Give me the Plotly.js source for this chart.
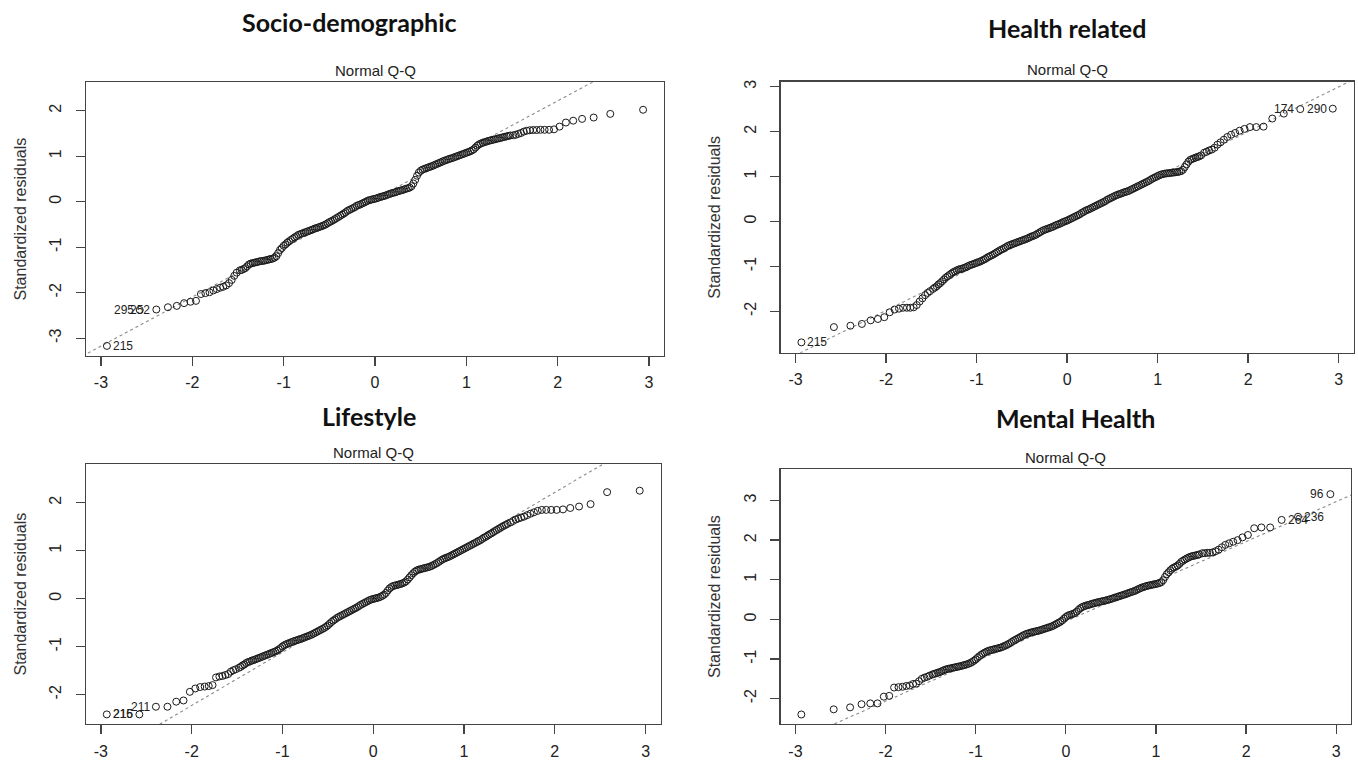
<!DOCTYPE html>
<html><head><meta charset="utf-8">
<script src="https://cdn.plot.ly/plotly-3.0.1.min.js"></script>
<style>html,body{margin:0;padding:0;background:#fff}#chart{width:1358px;height:761px}</style>
</head><body><div id="chart"></div><script>
// ---------- data ----------
const xTicks = [-3,-2,-1,0,1,2,3];

// theoretical quantiles (x positions of the points, shared by the four panels)
const qLow  = [-2.935,-2.576,-2.394,-2.267,-2.170,-2.090,-2.020,-1.960,-1.906,-1.857,-1.812,-1.770,-1.732,-1.695,-1.661,-1.629,-1.598,-1.569,-1.541,-1.514];
const qMid  = [-1.48,-1.46,-1.44,-1.42,-1.40,-1.38,-1.36,-1.34,-1.32,-1.30,
-1.28,-1.26,-1.24,-1.22,-1.20,-1.18,-1.16,-1.14,-1.12,-1.10,
-1.08,-1.06,-1.04,-1.02,-1.00,-0.98,-0.96,-0.94,-0.92,-0.90,
-0.88,-0.86,-0.84,-0.82,-0.80,-0.78,-0.76,-0.74,-0.72,-0.70,
-0.68,-0.66,-0.64,-0.62,-0.60,-0.58,-0.56,-0.54,-0.52,-0.50,
-0.48,-0.46,-0.44,-0.42,-0.40,-0.38,-0.36,-0.34,-0.32,-0.30,
-0.28,-0.26,-0.24,-0.22,-0.20,-0.18,-0.16,-0.14,-0.12,-0.10,
-0.08,-0.06,-0.04,-0.02,0.00,0.02,0.04,0.06,0.08,0.10,
0.12,0.14,0.16,0.18,0.20,0.22,0.24,0.26,0.28,0.30,
0.32,0.34,0.36,0.38,0.40,0.42,0.44,0.46,0.48,0.50,
0.52,0.54,0.56,0.58,0.60,0.62,0.64,0.66,0.68,0.70,
0.72,0.74,0.76,0.78,0.80,0.82,0.84,0.86,0.88,0.90,
0.92,0.94,0.96,0.98,1.00,1.02,1.04,1.06,1.08,1.10,
1.12,1.14,1.16,1.18,1.20,1.22,1.24,1.26,1.28,1.30,
1.32,1.34,1.36,1.38,1.40,1.42,1.44,1.46,1.48];
const qHigh = [1.514,1.541,1.569,1.598,1.629,1.661,1.695,1.732,1.770,1.812,1.857,1.906,1.960,2.020,2.090,2.170,2.267,2.394,2.576,2.935];

// Socio-demographic standardized residuals
const socioLow  = [-3.17,-2.38,-2.37,-2.32,-2.29,-2.23,-2.20,-2.18,-2.03,-2.01,-1.99,-1.95,-1.92,-1.89,-1.87,-1.84,-1.79,-1.72,-1.63,-1.56];
const socioMid  = [-1.51,-1.50,-1.48,-1.46,-1.42,-1.38,-1.36,-1.35,-1.34,-1.33,
-1.32,-1.31,-1.305,-1.30,-1.29,-1.28,-1.27,-1.26,-1.25,-1.23,
-1.20,-1.13,-1.06,-1.02,-0.97,-0.94,-0.90,-0.87,-0.84,-0.815,
-0.785,-0.76,-0.73,-0.715,-0.70,-0.685,-0.67,-0.655,-0.64,-0.625,
-0.61,-0.59,-0.58,-0.565,-0.55,-0.535,-0.52,-0.50,-0.475,-0.45,
-0.43,-0.41,-0.385,-0.36,-0.335,-0.31,-0.285,-0.26,-0.23,-0.20,
-0.18,-0.16,-0.14,-0.12,-0.09,-0.075,-0.06,-0.04,-0.02,0.00,
0.02,0.035,0.045,0.055,0.065,0.075,0.09,0.105,0.115,0.125,
0.14,0.155,0.17,0.185,0.195,0.205,0.22,0.235,0.245,0.255,
0.27,0.285,0.295,0.31,0.34,0.40,0.48,0.57,0.64,0.68,
0.705,0.72,0.735,0.75,0.765,0.78,0.795,0.815,0.83,0.85,
0.865,0.885,0.90,0.915,0.93,0.945,0.955,0.97,0.985,1.00,
1.015,1.03,1.045,1.06,1.075,1.09,1.105,1.125,1.15,1.19,
1.23,1.26,1.28,1.295,1.31,1.32,1.335,1.345,1.355,1.365,
1.375,1.385,1.395,1.405,1.415,1.425,1.435,1.445,1.455];
const socioHigh = [1.46,1.47,1.49,1.51,1.54,1.56,1.57,1.575,1.575,1.58,1.58,1.58,1.59,1.65,1.74,1.78,1.82,1.85,1.93,2.02];
const socioYTicks = [-3,-2,-1,0,1,2];
const socioIdText = ['215','295','252'];
const socioLine = {intercept:0.06, slope:1.078};

// Health related
const healthLow  = [-2.69,-2.35,-2.32,-2.28,-2.20,-2.17,-2.13,-2.02,-1.96,-1.94,-1.92,-1.92,-1.92,-1.91,-1.86,-1.78,-1.71,-1.64,-1.59,-1.55];
const healthMid  = [-1.50,-1.47,-1.44,-1.40,-1.37,-1.33,-1.29,-1.25,-1.22,-1.19,
-1.16,-1.13,-1.11,-1.09,-1.07,-1.06,-1.05,-1.035,-1.02,-1.00,
-0.98,-0.965,-0.95,-0.935,-0.92,-0.905,-0.89,-0.87,-0.85,-0.83,
-0.80,-0.78,-0.76,-0.74,-0.715,-0.69,-0.665,-0.64,-0.62,-0.60,
-0.575,-0.55,-0.53,-0.515,-0.50,-0.485,-0.47,-0.455,-0.44,-0.425,
-0.41,-0.395,-0.38,-0.36,-0.34,-0.325,-0.31,-0.29,-0.265,-0.24,
-0.215,-0.195,-0.18,-0.165,-0.15,-0.135,-0.12,-0.10,-0.08,-0.065,
-0.05,-0.03,-0.01,0.005,0.02,0.04,0.06,0.08,0.10,0.12,
0.14,0.16,0.19,0.21,0.235,0.255,0.27,0.29,0.31,0.33,
0.35,0.37,0.39,0.41,0.43,0.45,0.48,0.50,0.52,0.54,
0.56,0.58,0.595,0.61,0.625,0.64,0.655,0.665,0.68,0.70,
0.72,0.74,0.76,0.78,0.80,0.82,0.84,0.86,0.88,0.90,
0.925,0.95,0.97,0.99,1.01,1.03,1.045,1.055,1.065,1.07,
1.075,1.08,1.085,1.09,1.095,1.10,1.11,1.12,1.15,1.21,
1.27,1.33,1.37,1.39,1.405,1.42,1.435,1.45,1.47];
const healthHigh = [1.53,1.55,1.58,1.60,1.64,1.71,1.76,1.82,1.88,1.93,1.97,2.02,2.06,2.10,2.10,2.11,2.29,2.40,2.50,2.51];
const healthYTicks = [-2,-1,0,1,2,3];
const healthIdText = ['215','174','290'];
const healthLine = {intercept:0.01, slope:0.995};

// Lifestyle
const lifeLow  = [-2.41,-2.41,-2.25,-2.25,-2.145,-2.12,-1.94,-1.87,-1.84,-1.83,-1.82,-1.80,-1.64,-1.62,-1.61,-1.59,-1.57,-1.52,-1.49,-1.47];
const lifeMid  = [-1.44,-1.42,-1.39,-1.37,-1.34,-1.32,-1.31,-1.29,-1.28,-1.265,
-1.25,-1.235,-1.22,-1.205,-1.19,-1.175,-1.16,-1.145,-1.13,-1.115,
-1.10,-1.08,-1.055,-1.03,-0.995,-0.97,-0.95,-0.935,-0.92,-0.905,
-0.89,-0.875,-0.865,-0.85,-0.84,-0.825,-0.81,-0.795,-0.78,-0.765,
-0.75,-0.73,-0.71,-0.69,-0.67,-0.65,-0.63,-0.61,-0.585,-0.555,
-0.52,-0.485,-0.455,-0.43,-0.40,-0.38,-0.36,-0.34,-0.32,-0.30,
-0.28,-0.26,-0.24,-0.22,-0.20,-0.18,-0.155,-0.13,-0.11,-0.09,
-0.07,-0.05,-0.03,-0.015,-0.005,0.005,0.015,0.025,0.04,0.06,
0.085,0.12,0.17,0.215,0.245,0.265,0.275,0.285,0.295,0.305,
0.32,0.335,0.36,0.40,0.445,0.49,0.53,0.565,0.59,0.605,
0.615,0.625,0.635,0.645,0.655,0.665,0.68,0.70,0.72,0.74,
0.765,0.79,0.815,0.835,0.85,0.865,0.88,0.90,0.92,0.94,
0.96,0.98,1.00,1.02,1.04,1.06,1.08,1.10,1.12,1.14,
1.16,1.18,1.20,1.22,1.245,1.27,1.29,1.315,1.34,1.36,
1.385,1.41,1.43,1.455,1.475,1.50,1.52,1.54,1.56];
const lifeHigh = [1.59,1.62,1.65,1.67,1.69,1.71,1.74,1.77,1.80,1.83,1.85,1.85,1.85,1.85,1.86,1.89,1.92,1.97,2.22,2.25];
const lifeYTicks = [-2,-1,0,1,2];
const lifeIdText = ['215','216','211'];
const lifeLine = {intercept:-0.005, slope:1.11};

// Mental Health
const mentalLow  = [-2.40,-2.27,-2.22,-2.14,-2.12,-2.12,-1.95,-1.93,-1.72,-1.71,-1.70,-1.68,-1.67,-1.63,-1.62,-1.56,-1.50,-1.47,-1.45,-1.42];
const mentalMid  = [-1.39,-1.375,-1.36,-1.345,-1.33,-1.31,-1.29,-1.27,-1.255,-1.245,
-1.235,-1.225,-1.215,-1.205,-1.195,-1.185,-1.175,-1.16,-1.15,-1.135,
-1.12,-1.10,-1.075,-1.045,-1.01,-0.97,-0.93,-0.895,-0.865,-0.84,
-0.815,-0.795,-0.78,-0.77,-0.755,-0.745,-0.735,-0.72,-0.71,-0.69,
-0.67,-0.65,-0.625,-0.60,-0.57,-0.54,-0.515,-0.49,-0.465,-0.44,
-0.415,-0.39,-0.37,-0.355,-0.34,-0.325,-0.315,-0.305,-0.295,-0.285,
-0.27,-0.255,-0.24,-0.225,-0.21,-0.195,-0.18,-0.16,-0.135,-0.11,
-0.085,-0.06,-0.025,0.02,0.06,0.09,0.11,0.125,0.14,0.16,
0.195,0.24,0.28,0.31,0.33,0.345,0.36,0.37,0.385,0.40,
0.41,0.425,0.435,0.445,0.455,0.465,0.475,0.49,0.50,0.515,
0.53,0.545,0.56,0.575,0.59,0.605,0.62,0.635,0.65,0.67,
0.685,0.70,0.715,0.735,0.76,0.78,0.80,0.815,0.83,0.845,
0.855,0.865,0.875,0.885,0.895,0.905,0.92,0.94,0.99,1.07,
1.14,1.19,1.24,1.28,1.31,1.33,1.36,1.40,1.45,1.48,
1.51,1.535,1.56,1.58,1.595,1.605,1.615,1.625,1.64];
const mentalHigh = [1.67,1.67,1.68,1.68,1.69,1.72,1.76,1.82,1.88,1.92,1.96,2.00,2.07,2.13,2.30,2.32,2.32,2.51,2.59,3.16];
const mentalYTicks = [-2,-1,0,1,2,3];
const mentalIdText = ['264','236','96'];
const mentalLine = {intercept:-0.05, slope:1.007};

// ---------- build ----------
const qq = qLow.concat(qMid, qHigh);
const N = qq.length;
const W = 1358, H = 761;
const xRange = [-3.164, 3.164];
const panels = [
  {r:socioLow.concat(socioMid, socioHigh), yTicks:socioYTicks, ids:[0,1,2], idText:socioIdText, line:socioLine,
   yRange:[-3.385,2.624], box:[86,664,82.3,355.7], title:'Socio-demographic', tpos:[350,22]},
  {r:healthLow.concat(healthMid, healthHigh), yTicks:healthYTicks, ids:[0,N-2,N-1], idText:healthIdText, line:healthLine,
   yRange:[-2.92,3.11], box:[780.7,1353.5,81.7,352.7], title:'Health related', tpos:[1067,28]},
  {r:lifeLow.concat(lifeMid, lifeHigh), yTicks:lifeYTicks, ids:[0,1,2], idText:lifeIdText, line:lifeLine,
   yRange:[-2.61,2.806], box:[86,660.5,464,724], title:'Lifestyle', tpos:[369,416]},
  {r:mentalLow.concat(mentalMid, mentalHigh), yTicks:mentalYTicks, ids:[N-3,N-2,N-1], idText:mentalIdText, line:mentalLine,
   yRange:[-2.64,3.795], box:[780.7,1351,469,724], title:'Mental Health', tpos:[1075,418]}
];

const FONT = 'Liberation Sans, Arial, sans-serif';
const axisCommon = {
  showline:true, mirror:true, linecolor:'#444', linewidth:1.3,
  ticks:'outside', ticklen:9, tickwidth:1.3, tickcolor:'#444',
  showgrid:false, zeroline:false, tickmode:'array',
  tickfont:{family:FONT, size:16, color:'#222'}, fixedrange:true
};
const traces = [], annotations = [];
const layout = {width:W, height:H, margin:{l:0,r:0,t:0,b:0}, paper_bgcolor:'#fff', plot_bgcolor:'#fff',
  showlegend:false, annotations};

panels.forEach((p, i) => {
  const s = i === 0 ? '' : String(i+1);
  const xr = 'x'+s, yr = 'y'+s;
  const [l, rgt, t, b] = p.box;
  const n = Math.min(qq.length, p.r.length);
  const px = qq.slice(0, n), py = p.r.slice(0, n);
  layout['xaxis'+s] = Object.assign({}, axisCommon, {domain:[l/W, rgt/W], range:xRange, anchor:yr,
    tickvals:xTicks, ticktext:xTicks.map(String), ticklabelstandoff:3});
  layout['yaxis'+s] = Object.assign({}, axisCommon, {domain:[1-b/H, 1-t/H], range:p.yRange, anchor:xr,
    tickvals:p.yTicks, ticktext:p.yTicks.map(String), tickangle:-90, ticklabelstandoff:8});
  const lx = [xRange[0]-0.5, xRange[1]+0.5];
  traces.push({x:lx, y:lx.map(v => p.line.intercept + p.line.slope*v), xaxis:xr, yaxis:yr,
    mode:'lines', line:{color:'#8a8a8a', width:1.1, dash:'dot'}, hoverinfo:'skip'});
  traces.push({x:px, y:py, xaxis:xr, yaxis:yr, mode:'markers',
    marker:{symbol:'circle-open', size:7, color:'#1a1a1a', line:{width:1, color:'#1a1a1a'}}});
  const lxv = p.ids.map(k => px[k]);
  const mid = (Math.min(...lxv) + Math.max(...lxv))/2;
  p.ids.forEach((k, j) => {
    const left = px[k] > mid;
    annotations.push({xref:xr, yref:yr, x:px[k], y:py[k], text:p.idText[j], showarrow:false,
      xanchor: left ? 'right' : 'left', yanchor:'middle', xshift: left ? -4 : 4,
      font:{family:FONT, size:12, color:'#222'}});
  });
  annotations.push({xref:'paper', yref:'paper', x:((l+rgt)/2)/W, y:1-(t-12)/H, text:'Normal Q-Q',
    showarrow:false, xanchor:'center', yanchor:'middle', font:{family:FONT, size:15, color:'#222'}});
  const ytx = i % 2 === 0 ? 19.5 : 714.5;
  annotations.push({xref:'paper', yref:'paper', x:ytx/W, y:1-((t+b)/2)/H, text:'Standardized residuals',
    textangle:-90, showarrow:false, xanchor:'center', yanchor:'middle', font:{family:FONT, size:16, color:'#333'}});
  annotations.push({xref:'paper', yref:'paper', x:p.tpos[0]/W, y:1-p.tpos[1]/H, text:'<b>'+p.title+'</b>',
    showarrow:false, xanchor:'center', yanchor:'middle', font:{family:'Lato, Open Sans, sans-serif', size:25, color:'#111'}});
});

Plotly.newPlot('chart', traces, layout, {displayModeBar:false, staticPlot:true});
</script></body></html>
